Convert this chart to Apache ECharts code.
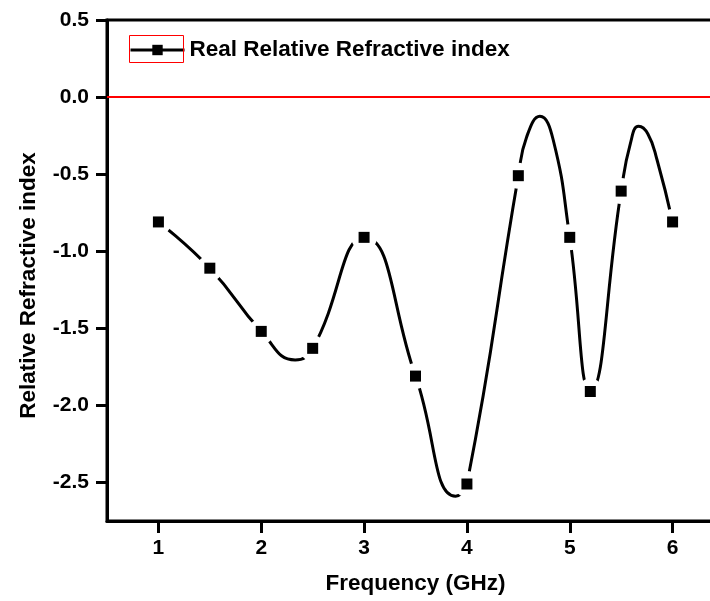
<!DOCTYPE html>
<html>
<head>
<meta charset="utf-8">
<script src="https://cdn.jsdelivr.net/npm/echarts@6/dist/echarts.min.js"></script>
<style>
  html, body { margin: 0; padding: 0; background: #fff; }
  #chart { width: 710px; height: 601px; }
</style>
</head>
<body>
<div id="chart"></div>
<script>
// measured points (the squares)
var freq = [1, 1.5, 2, 2.5, 3, 3.5, 4, 4.5, 5, 5.2, 5.5, 6];
var realIndex = [-0.81, -1.11, -1.52, -1.63, -0.91, -1.81, -2.51, -0.51, -0.91, -1.91, -0.61, -0.81];

// points read along the drawn spline, incl. its turning points
var curveFreq = [1, 1.5, 2, 2.33, 2.5, 3, 3.5, 3.89, 4, 4.5, 4.58, 4.71, 4.84, 5, 5.2, 5.5, 5.59, 5.67, 5.76, 5.85, 6];
var curveIndex = [-0.81, -1.11, -1.52, -1.705, -1.63, -0.91, -1.81, -2.59, -2.51, -0.51, -0.26, -0.125, -0.28, -0.91, -1.91, -0.61, -0.30, -0.19, -0.24, -0.41, -0.81];

// axis ticks
var xTicks = [1, 2, 3, 4, 5, 6];
var yTicks = [0.5, 0, -0.5, -1, -1.5, -2, -2.5];

var seriesName = 'Real Relative Refractive index';
var font = "'Liberation Sans', Arial, sans-serif";

function pairs(xs, ys) {
  return xs.map(function (x, i) { return [x, ys[i]]; });
}

var chart = echarts.init(document.getElementById('chart'), null, { renderer: 'canvas' });

var labelStyle = {
  color: '#000',
  fontFamily: font,
  fontWeight: 'bold',
  fontSize: 21
};
var titleStyle = {
  color: '#000',
  fontFamily: font,
  fontWeight: 'bold',
  fontSize: 22.5
};

var option = {
  animation: false,
  backgroundColor: '#fff',
  grid: {
    show: true,
    borderColor: '#000',
    borderWidth: 3,
    left: 107,
    right: -14,
    top: 20,
    bottom: 80,
    containLabel: false,
    outerBoundsMode: 'none'
  },
  legend: {
    data: [seriesName],
    left: 129,
    top: 38.5,
    padding: 0,
    itemWidth: 54,
    itemHeight: 13,
    itemGap: 5,
    textStyle: titleStyle,
    lineStyle: { color: '#000', width: 3, opacity: 1 },
    itemStyle: { color: '#000', borderWidth: 0 }
  },
  graphic: [{
    type: 'rect',
    shape: { x: 129.5, y: 35.5, width: 54, height: 27 },
    style: { fill: 'none', stroke: '#ff0000', lineWidth: 1 },
    z: 100
  }],
  xAxis: {
    type: 'value',
    min: 0.5,
    max: 6.5,
    name: 'Frequency (GHz)',
    nameLocation: 'middle',
    nameGap: 51,
    nameTextStyle: titleStyle,
    splitLine: { show: false },
    axisLine: { onZero: false, lineStyle: { color: '#000', width: 3 } },
    axisTick: { show: true, customValues: xTicks, length: 12, lineStyle: { color: '#000', width: 3 } },
    axisLabel: Object.assign({ customValues: xTicks, margin: 17 }, labelStyle)
  },
  yAxis: {
    type: 'value',
    min: -2.75,
    max: 0.5,
    name: 'Relative Refractive index',
    nameLocation: 'middle',
    nameGap: 67,
    nameTextStyle: Object.assign({ padding: [0, 30, 0, 0] }, titleStyle),
    splitLine: { show: false },
    axisLine: { onZero: false, lineStyle: { color: '#000', width: 3 } },
    axisTick: { customValues: yTicks, length: 11, lineStyle: { color: '#000', width: 3 } },
    axisLabel: Object.assign({
      customValues: yTicks,
      margin: 18,
      formatter: function (v) { return v.toFixed(1); }
    }, labelStyle)
  },
  series: [{
    name: 'curve',
    type: 'line',
    data: pairs(curveFreq, curveIndex),
    smooth: 0.5,
    showSymbol: false,
    lineStyle: { color: '#000', width: 3 },
    z: 2,
    markLine: {
      silent: true,
      symbol: 'none',
      label: { show: false },
      lineStyle: { color: '#ff0000', width: 2, type: 'solid' },
      data: [{ yAxis: 0 }]
    }
  }, {
    name: 'gap',
    type: 'scatter',
    data: pairs(freq, realIndex),
    symbol: 'circle',
    symbolSize: 26,
    itemStyle: { color: '#ffffff', opacity: 1 },
    z: 10
  }, {
    name: seriesName,
    type: 'line',
    data: pairs(freq, realIndex),
    symbol: 'rect',
    symbolSize: 11,
    showSymbol: true,
    showAllSymbol: true,
    itemStyle: { color: '#000' },
    lineStyle: { opacity: 0 },
    z: 11
  }]
};

chart.setOption(option);
</script>
</body>
</html>
